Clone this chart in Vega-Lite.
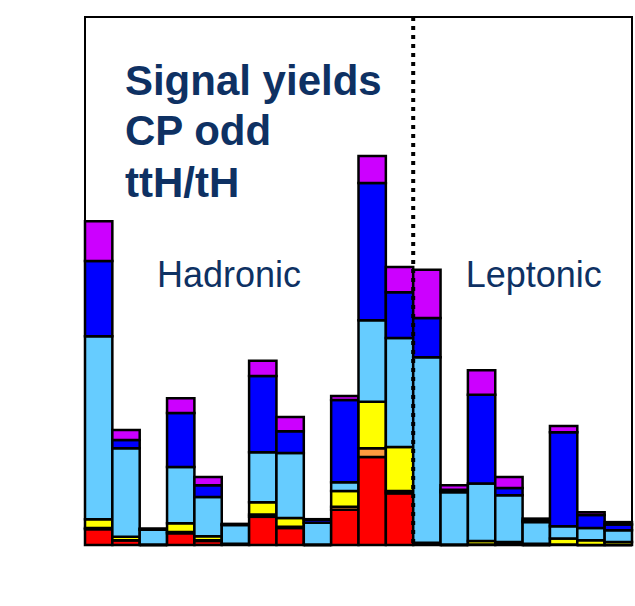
{
  "$schema": "https://vega.github.io/schema/vega-lite/v6.json",
  "width": 547,
  "height": 528,
  "autosize": {"type": "none"},
  "padding": {"left": 85, "top": 17, "right": 3, "bottom": 61},
  "background": "white",
  "config": {
    "view": {"stroke": "black", "strokeWidth": 2},
    "font": "Liberation Sans",
    "axis": {
      "labelColor": "black",
      "titleColor": "black",
      "labelFont": "Liberation Sans",
      "titleFont": "Liberation Sans",
      "titleFontWeight": "normal"
    }
  },
  "datasets": {
    "yields": [
      {"cat": 1, "lo": 0.5, "hi": 1.5, "red": 0.27, "orange": 0.02, "yellow": 0.15, "lightblue": 3.12, "blue": 1.28, "violet": 0.68},
      {"cat": 2, "lo": 1.5, "hi": 2.5, "red": 0.08, "orange": 0.0, "yellow": 0.06, "lightblue": 1.51, "blue": 0.14, "violet": 0.17},
      {"cat": 3, "lo": 2.5, "hi": 3.5, "red": 0.0, "orange": 0.0, "yellow": 0.01, "lightblue": 0.25, "blue": 0.01, "violet": 0.01},
      {"cat": 4, "lo": 3.5, "hi": 4.5, "red": 0.2, "orange": 0.02, "yellow": 0.15, "lightblue": 0.96, "blue": 0.92, "violet": 0.25},
      {"cat": 5, "lo": 4.5, "hi": 5.5, "red": 0.07, "orange": 0.01, "yellow": 0.07, "lightblue": 0.67, "blue": 0.2, "violet": 0.14},
      {"cat": 6, "lo": 5.5, "hi": 6.5, "red": 0.01, "orange": 0.0, "yellow": 0.01, "lightblue": 0.32, "blue": 0.01, "violet": 0.01},
      {"cat": 7, "lo": 6.5, "hi": 7.5, "red": 0.48, "orange": 0.04, "yellow": 0.21, "lightblue": 0.85, "blue": 1.3, "violet": 0.26},
      {"cat": 8, "lo": 7.5, "hi": 8.5, "red": 0.29, "orange": 0.02, "yellow": 0.15, "lightblue": 1.11, "blue": 0.37, "violet": 0.24},
      {"cat": 9, "lo": 8.5, "hi": 9.5, "red": 0.0, "orange": 0.0, "yellow": 0.01, "lightblue": 0.37, "blue": 0.05, "violet": 0.01},
      {"cat": 10, "lo": 9.5, "hi": 10.5, "red": 0.6, "orange": 0.05, "yellow": 0.27, "lightblue": 0.15, "blue": 1.4, "violet": 0.07},
      {"cat": 11, "lo": 10.5, "hi": 11.5, "red": 1.5, "orange": 0.15, "yellow": 0.79, "lightblue": 1.39, "blue": 2.34, "violet": 0.46},
      {"cat": 12, "lo": 11.5, "hi": 12.5, "red": 0.88, "orange": 0.04, "yellow": 0.75, "lightblue": 1.86, "blue": 0.78, "violet": 0.43},
      {"cat": 13, "lo": 12.5, "hi": 13.5, "red": 0.02, "orange": 0.0, "yellow": 0.02, "lightblue": 3.16, "blue": 0.67, "violet": 0.82},
      {"cat": 14, "lo": 13.5, "hi": 14.5, "red": 0.0, "orange": 0.0, "yellow": 0.01, "lightblue": 0.89, "blue": 0.04, "violet": 0.08},
      {"cat": 15, "lo": 14.5, "hi": 15.5, "red": 0.01, "orange": 0.0, "yellow": 0.06, "lightblue": 0.98, "blue": 1.51, "violet": 0.42},
      {"cat": 16, "lo": 15.5, "hi": 16.5, "red": 0.01, "orange": 0.0, "yellow": 0.04, "lightblue": 0.8, "blue": 0.12, "violet": 0.19},
      {"cat": 17, "lo": 16.5, "hi": 17.5, "red": 0.0, "orange": 0.0, "yellow": 0.02, "lightblue": 0.37, "blue": 0.02, "violet": 0.04},
      {"cat": 18, "lo": 17.5, "hi": 18.5, "red": 0.01, "orange": 0.0, "yellow": 0.1, "lightblue": 0.21, "blue": 1.6, "violet": 0.11},
      {"cat": 19, "lo": 18.5, "hi": 19.5, "red": 0.0, "orange": 0.0, "yellow": 0.08, "lightblue": 0.21, "blue": 0.22, "violet": 0.05},
      {"cat": 20, "lo": 19.5, "hi": 20.5, "red": 0.0, "orange": 0.0, "yellow": 0.05, "lightblue": 0.2, "blue": 0.1, "violet": 0.04}
    ],
    "procs": [
      {"proc": "red", "ord": 1},
      {"proc": "orange", "ord": 2},
      {"proc": "yellow", "ord": 3},
      {"proc": "lightblue", "ord": 4},
      {"proc": "blue", "ord": 5},
      {"proc": "violet", "ord": 6}
    ],
    "boundary": [{"x": 12.5}],
    "titles": [
      {"text": "Signal yields", "x": 1.96, "y": 7.67},
      {"text": "CP odd", "x": 1.96, "y": 6.82},
      {"text": "ttH/tH", "x": 1.96, "y": 5.94}
    ],
    "regions": [
      {"text": "Hadronic", "x": 3.13, "y": 4.4},
      {"text": "Leptonic", "x": 14.42, "y": 4.4}
    ]
  },
  "layer": [
    {
      "data": {"name": "yields"},
      "transform": [
        {"fold": ["red", "orange", "yellow", "lightblue", "blue", "violet"], "as": ["proc", "v"]},
        {"lookup": "proc", "from": {"data": {"name": "procs"}, "key": "proc", "fields": ["ord"]}},
        {"stack": "v", "groupby": ["cat"], "sort": [{"field": "ord", "order": "ascending"}], "as": ["y0", "y1"]}
      ],
      "mark": {"type": "rect", "stroke": "black", "strokeWidth": 2.5},
      "encoding": {
        "x": {
          "field": "lo", "type": "quantitative",
          "scale": {"domain": [0.5, 20.5], "nice": false, "zero": false},
          "axis": {"orient": "bottom", "tickCount": 20, "grid": false, "domainOpacity": 0, "zindex": 1, "tickColor": "black", "tickWidth": 2, "offset": -16, "tickSize": 16, "labelPadding": 5, "labelFontSize": 18, "title": "Category", "titleFontSize": 19, "titleAnchor": "end", "titlePadding": 12}
        },
        "x2": {"field": "hi"},
        "y": {
          "field": "y0", "type": "quantitative",
          "scale": {"domain": [0, 9], "nice": false},
          "axis": {"orient": "left", "tickCount": 9, "grid": false, "domainOpacity": 0, "zindex": 1, "tickColor": "black", "tickWidth": 2, "offset": -16, "tickSize": 16, "labelPadding": 10, "labelFontSize": 21, "title": "Expected event yield", "titleFontSize": 17.5, "titleAnchor": "end", "titlePadding": 28}
        },
        "y2": {"field": "y1"},
        "color": {
          "field": "proc", "type": "nominal",
          "scale": {"domain": ["red", "orange", "yellow", "lightblue", "blue", "violet"], "range": ["#ff0000", "#ff9a40", "#ffff00", "#66ccff", "#0000ff", "#cc00ff"]},
          "legend": null
        }
      }
    },
    {
      "data": {"name": "boundary"},
      "mark": {"type": "rule", "strokeDash": [4, 5], "strokeWidth": 4, "color": "black"},
      "encoding": {
        "x": {"field": "x", "type": "quantitative", "scale": {"domain": [0.5, 20.5], "nice": false, "zero": false}, "axis": null}
      }
    },
    {
      "data": {"name": "titles"},
      "mark": {"type": "text", "align": "left", "baseline": "alphabetic", "fontSize": 42, "fontWeight": "bold", "font": "Liberation Sans", "color": "#0e3163"},
      "encoding": {
        "x": {"field": "x", "type": "quantitative", "scale": {"domain": [0.5, 20.5], "nice": false, "zero": false}, "axis": null},
        "y": {"field": "y", "type": "quantitative", "scale": {"domain": [0, 9], "nice": false}, "axis": null},
        "text": {"field": "text"}
      }
    },
    {
      "data": {"name": "regions"},
      "mark": {"type": "text", "align": "left", "baseline": "alphabetic", "fontSize": 36, "font": "Liberation Sans", "color": "#0e3163"},
      "encoding": {
        "x": {"field": "x", "type": "quantitative", "scale": {"domain": [0.5, 20.5], "nice": false, "zero": false}, "axis": null},
        "y": {"field": "y", "type": "quantitative", "scale": {"domain": [0, 9], "nice": false}, "axis": null},
        "text": {"field": "text"}
      }
    }
  ]
}
